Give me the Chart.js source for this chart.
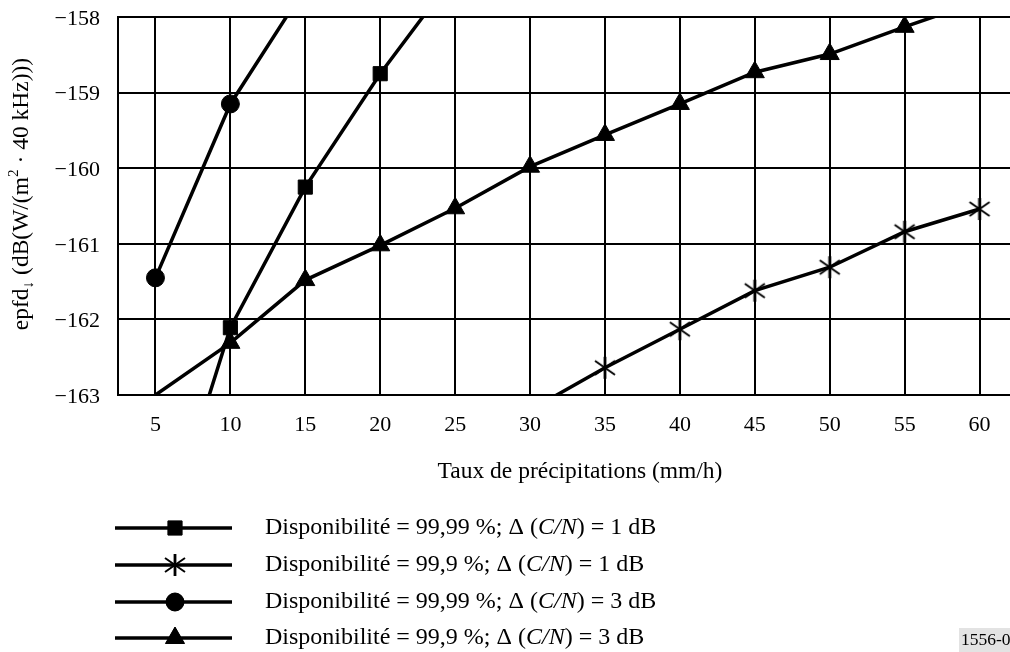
<!DOCTYPE html>
<html>
<head>
<meta charset="utf-8">
<script src="https://cdn.jsdelivr.net/npm/chart.js@4.4.0/dist/chart.umd.min.js"></script>
<style>
  html, body { margin: 0; padding: 0; background: #fff; overflow: hidden; }
  #wrap { width: 1010px; height: 652px; overflow: hidden; }
  canvas { display: block; }
</style>
</head>
<body>
<div id="wrap"><canvas id="chart" width="1030" height="652"></canvas></div>
<script>
// axis ticks
const xTicks = [5, 10, 15, 20, 25, 30, 35, 40, 45, 50, 55, 60];
const yTicks = [-163, -162, -161, -160, -159, -158];

// Disponibilité 99,99 %, delta C/N 1 dB (squares)
const rate9999_1dB = [5, 10, 15, 20, 25];
const epfd9999_1dB = [-165.27, -162.11, -160.25, -158.75, -157.43];

// Disponibilité 99,9 %, delta C/N 1 dB (asterisks)
const rate999_1dB = [30, 35, 40, 45, 50, 55, 60];
const epfd999_1dB = [-163.2, -162.64, -162.13, -161.62, -161.31, -160.84, -160.54];

// Disponibilité 99,99 %, delta C/N 3 dB (circles)
const rate9999_3dB = [5, 10, 15];
const epfd9999_3dB = [-161.45, -159.15, -157.61];

// Disponibilité 99,9 %, delta C/N 3 dB (triangles)
const rate999_3dB = [5, 10, 15, 20, 25, 30, 35, 40, 45, 50, 55, 60];
const epfd999_3dB = [-163.0, -162.31, -161.48, -161.02, -160.53, -159.98, -159.56, -159.15, -158.73, -158.49, -158.13, -157.79];

const legendLabels = [
  'Disponibilité = 99,99 %; Δ (C/N) = 1 dB',
  'Disponibilité = 99,9 %; Δ (C/N) = 1 dB',
  'Disponibilité = 99,99 %; Δ (C/N) = 3 dB',
  'Disponibilité = 99,9 %; Δ (C/N) = 3 dB'
];

const X_MIN = 2.5, X_MAX = 62.5;
const Y_MIN = -163, Y_MAX = -158;
const FONT = '"Liberation Serif", "Times New Roman", serif';

// asterisk marker: vertical bar + two diagonals
function makeAsterisk() {
  const c = document.createElement('canvas');
  c.width = 24; c.height = 24;
  const g = c.getContext('2d');
  g.strokeStyle = '#000';
  g.lineWidth = 2.8;
  g.beginPath(); g.moveTo(12, 1); g.lineTo(12, 23); g.stroke();
  g.lineWidth = 2;
  g.beginPath();
  g.moveTo(2, 5); g.lineTo(22, 19);
  g.moveTo(22, 5); g.lineTo(2, 19);
  g.stroke();
  return c;
}
const asterisk = makeAsterisk();

function pts(xs, ys) {
  return xs.map((x, i) => ({ x: x, y: ys[i] }));
}

// markers only where the point lies inside the plot
function radiusFor(r) {
  return ctx => {
    const p = ctx.raw;
    if (!p) return 0;
    return (p.y > Y_MIN && p.y < Y_MAX && p.x > X_MIN && p.x < X_MAX) ? r : 0;
  };
}

function series(label, xs, ys, style, r) {
  return {
    label: label,
    data: pts(xs, ys),
    borderColor: '#000',
    backgroundColor: '#000',
    borderWidth: 3.5,
    pointStyle: style,
    pointRadius: radiusFor(r),
    pointHoverRadius: radiusFor(r),
    pointBorderWidth: 1,
    markerSize: r,
    tension: 0
  };
}

const datasets = [
  series(legendLabels[0], rate9999_1dB, epfd9999_1dB, 'rect', 10),
  series(legendLabels[1], rate999_1dB, epfd999_1dB, asterisk, 12),
  series(legendLabels[2], rate9999_3dB, epfd9999_3dB, 'circle', 9),
  series(legendLabels[3], rate999_3dB, epfd999_3dB, 'triangle', 11)
];

// draw a run of text pieces (italic / small raised or lowered)
function drawParts(ctx, parts, x, y, size, align) {
  const fontOf = p => (p.italic ? 'italic ' : '') + (p.small ? size * 0.65 : size) + 'px ' + FONT;
  ctx.textAlign = 'left';
  let w = 0;
  parts.forEach(p => { ctx.font = fontOf(p); w += ctx.measureText(p.t).width; });
  let cx = x + (align === 'center' ? -w / 2 : align === 'right' ? -w : 0);
  parts.forEach(p => {
    ctx.font = fontOf(p);
    ctx.fillText(p.t, cx, y + (p.dy || 0));
    cx += ctx.measureText(p.t).width;
  });
}

function text(ctx, s, x, y, size, align) {
  drawParts(ctx, [{ t: s }], x, y, size, align);
}

const extras = {
  id: 'extras',
  afterDraw(chart) {
    const ctx = chart.ctx;
    const xs = chart.scales.x, ys = chart.scales.y;
    ctx.save();
    ctx.fillStyle = '#000';
    ctx.strokeStyle = '#000';
    ctx.textBaseline = 'middle';

    // tick labels
    xTicks.forEach(v => text(ctx, String(v), xs.getPixelForValue(v), 425, 22, 'center'));
    yTicks.forEach(v => text(ctx, '\u2212' + Math.abs(v), 100, ys.getPixelForValue(v) + 2, 22, 'right'));

    // x title
    text(ctx, 'Taux de précipitations (mm/h)', 580, 472, 23.5, 'center');

    // y title (rotated)
    ctx.save();
    ctx.translate(22, 194);
    ctx.rotate(-Math.PI / 2);
    drawParts(ctx, [
      { t: 'epfd' },
      { t: '↓', small: true, dy: 7 },
      { t: ' (dB(W/(m' },
      { t: '2', small: true, dy: -8 },
      { t: ' · 40 kHz)))' }
    ], 0, 0, 23.5, 'center');
    ctx.restore();

    // legend
    const rowY = [528, 565, 602, 638];
    chart.data.datasets.forEach((ds, i) => {
      const y = rowY[i];
      ctx.lineWidth = 3.5;
      ctx.beginPath();
      ctx.moveTo(115, y);
      ctx.lineTo(232, y);
      ctx.stroke();
      ctx.lineWidth = 1;
      Chart.helpers.drawPoint(ctx, { pointStyle: ds.pointStyle, radius: ds.markerSize, borderWidth: 1, rotation: 0 }, 175, y);
      ctx.fill();
      const bits = ds.label.split('C/N');
      drawParts(ctx, [
        { t: bits[0] },
        { t: 'C/N', italic: true },
        { t: bits[1] }
      ], 265, y, 24, 'left');
    });

    // figure reference
    ctx.fillStyle = '#e3e3e3';
    ctx.fillRect(959, 628, 72, 24);
    ctx.fillStyle = '#000';
    text(ctx, '1556-03', 961, 640, 17.5, 'left');
    ctx.restore();
  }
};

new Chart(document.getElementById('chart'), {
  type: 'line',
  data: { datasets: datasets },
  options: {
    responsive: false,
    animation: false,
    events: [],
    layout: { padding: { left: 0, top: 17, right: 7, bottom: 0 } },
    plugins: {
      legend: { display: false },
      tooltip: { enabled: false }
    },
    scales: {
      x: {
        type: 'linear',
        min: X_MIN,
        max: X_MAX,
        afterBuildTicks: s => { s.ticks = xTicks.map(v => ({ value: v })); },
        afterFit: s => { s.height = 257; },
        grid: { color: '#000', lineWidth: 2, drawTicks: false },
        border: { color: '#000', width: 2 },
        ticks: { display: false }
      },
      y: {
        type: 'linear',
        min: Y_MIN,
        max: Y_MAX,
        afterBuildTicks: s => { s.ticks = yTicks.map(v => ({ value: v })); },
        afterFit: s => { s.width = 118; },
        grid: { color: '#000', lineWidth: 2, drawTicks: false },
        border: { color: '#000', width: 2 },
        ticks: { display: false }
      }
    }
  },
  plugins: [extras]
});
</script>
</body>
</html>
